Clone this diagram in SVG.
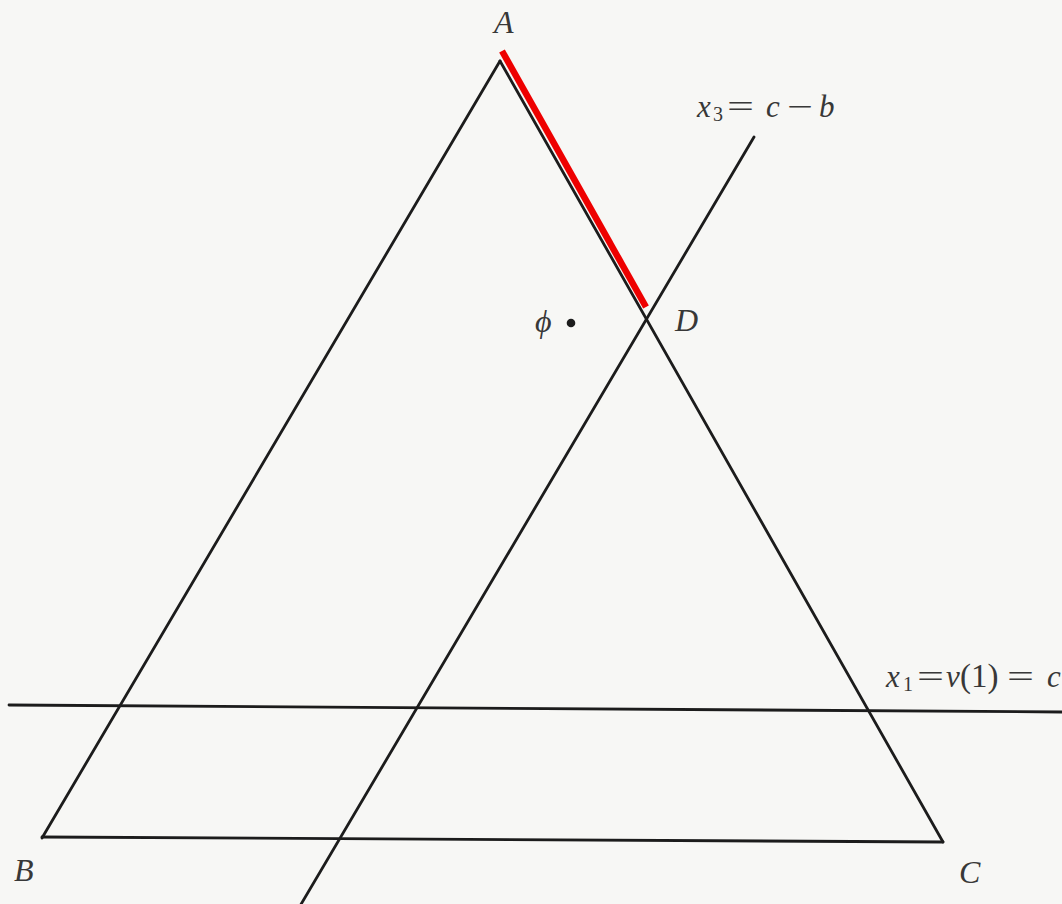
<svg xmlns="http://www.w3.org/2000/svg" width="1062" height="904" viewBox="0 0 1062 904">
  <style>
    .ln { stroke: #1c1c1c; stroke-width: 2.8; stroke-linecap: round; fill: none; }
    .lbl { font-family: "Liberation Serif", "Times New Roman", serif; font-style: italic; fill: #383838; }
    .up { font-style: normal; }
    .big { font-size: 32px; }
    .eq { font-size: 31px; }
  </style>
  <rect x="0" y="0" width="1062" height="904" fill="#f7f7f5"/>

  <g id="connectors">
    <line class="ln" x1="500" y1="61" x2="42" y2="838"/>
    <line class="ln" x1="500" y1="61" x2="943" y2="842"/>
    <line class="ln" x1="42" y1="837" x2="943" y2="842"/>
    <line class="ln" x1="9" y1="705" x2="1062" y2="712"/>
    <line class="ln" x1="754" y1="137" x2="300" y2="906"/>
    <line x1="502" y1="51" x2="646" y2="307" stroke="#ee0000" stroke-width="6.5" stroke-linecap="butt"/>
  </g>

  <g id="node-A"><text class="lbl big" x="494" y="33">A</text></g>
  <g id="node-B"><text class="lbl big" x="14" y="881">B</text></g>
  <g id="node-C"><text class="lbl big" x="959" y="883">C</text></g>
  <g id="node-D"><text class="lbl big" x="675" y="331">D</text></g>
  <g id="node-phi">
    <text class="lbl big" x="535" y="332">ϕ</text>
    <circle cx="571" cy="323" r="4.3" fill="#1c1c1c"/>
  </g>

  <g id="label-x3">
    <text class="lbl eq" y="117"><tspan x="697">x</tspan><tspan x="713" y="121" font-size="20" class="up">3</tspan><tspan x="727" y="117" class="up" textLength="27" lengthAdjust="spacingAndGlyphs">=</tspan><tspan x="766" y="117">c</tspan><tspan x="787" class="up" textLength="26" lengthAdjust="spacingAndGlyphs">−</tspan><tspan x="819">b</tspan></text>
  </g>

  <g id="label-x1">
    <text class="lbl eq" y="687"><tspan x="886">x</tspan><tspan x="903" y="691" font-size="20" class="up">1</tspan><tspan x="917" y="687" class="up" textLength="27" lengthAdjust="spacingAndGlyphs">=</tspan><tspan x="946">v</tspan><tspan x="960" class="up" font-size="33">(1)</tspan><tspan x="1007" class="up" textLength="27" lengthAdjust="spacingAndGlyphs">=</tspan><tspan x="1047">c</tspan></text>
  </g>
</svg>
